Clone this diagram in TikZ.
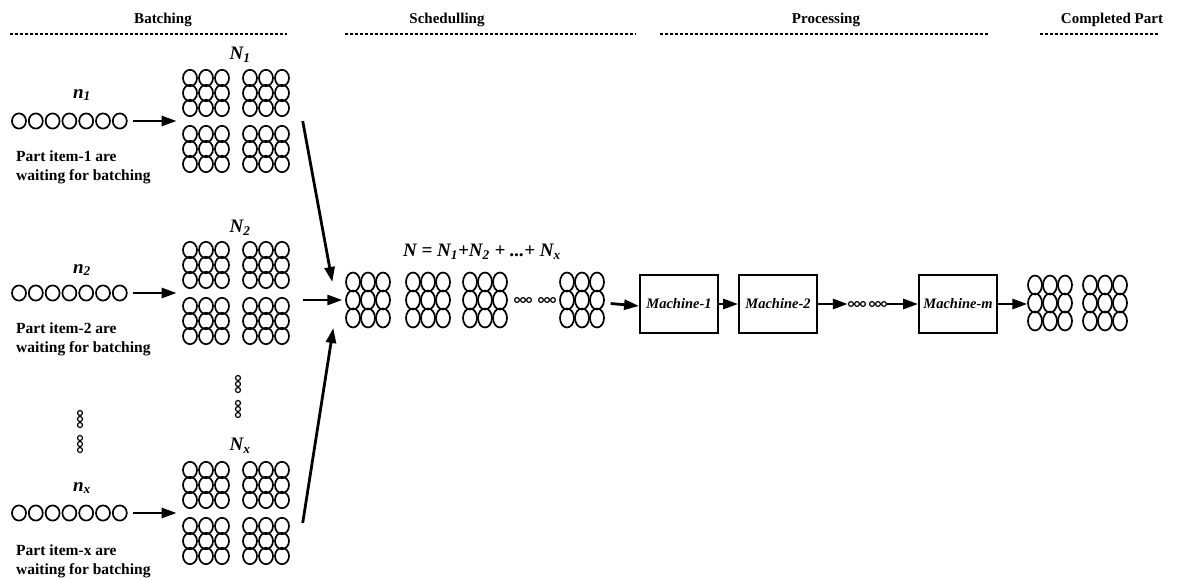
\documentclass[tikz,border=0pt]{standalone}
\usepackage{fontspec}
\setmainfont{Liberation Serif}
\usetikzlibrary{arrows.meta}

\begin{document}
\begin{tikzpicture}[x=1pt,y=-1pt,>={Triangle[length=15pt,width=10pt]},font=\bfseries]

\tikzstyle{ring}=[line width=1.7pt]
\tikzstyle{dot}=[line width=1.2pt]
\tikzstyle{blk}=[inner sep=0pt,minimum width=107pt,minimum height=102pt]
\tikzstyle{que}=[inner sep=0pt,minimum width=116pt,minimum height=16pt]
\tikzstyle{seq}=[inner sep=0pt,minimum height=55pt]
\tikzstyle{vdots}=[inner sep=0pt,minimum width=6pt,minimum height=43pt]
\tikzstyle{mach}=[draw,line width=1.8pt,minimum width=78pt,minimum height=58pt,font=\fontsize{14.5}{14.5}\selectfont\bfseries\itshape]
\tikzstyle{arr}=[->,line width=2.8pt]
\tikzstyle{hdr}=[font=\fontsize{15}{15}\selectfont\bfseries]
\tikzstyle{hline}=[line width=1.2pt,dash pattern=on 3pt off 2pt]
\tikzstyle{lbl}=[font=\fontsize{19}{19}\selectfont\bfseries\itshape]
\tikzstyle{note}=[align=left,anchor=west,inner sep=0pt,font=\fontsize{15.5}{19}\selectfont\bfseries]

    \useasboundingbox (0,0) rectangle (1191,578);

    % headers
    \node[hdr] (hb) at (163,20) {Batching};
    \node[hdr] (hs) at (447,20) {Schedulling};
    \node[hdr] (hp) at (826,20) {Processing};
    \node[hdr] (hc) at (1112,20) {Completed Part};
    \coordinate (hb1) at (10,34);   \coordinate (hb2) at (287,34);
    \coordinate (hs1) at (345,34);  \coordinate (hs2) at (636,34);
    \coordinate (hp1) at (660,34);  \coordinate (hp2) at (988,34);
    \coordinate (hc1) at (1040,34); \coordinate (hc2) at (1158,34);
    \draw[hline] (hb1) -- (hb2);
    \draw[hline] (hs1) -- (hs2);
    \draw[hline] (hp1) -- (hp2);
    \draw[hline] (hc1) -- (hc2);

    % waiting parts
    \node[que] (q1) at (69.5,121) {};
    \node[que] (q2) at (69.5,293) {};
    \node[que] (qx) at (69.5,513) {};
    \foreach \q in {q1,q2,qx}
      \foreach \i in {0,...,6}
        \draw[ring] (\q.center) ++(-50.5+16.8*\i,0) ellipse (7 and 7.6);

    \node[lbl] (n1) at (82,95) {n\textsubscript{1}};
    \node[lbl] (n2) at (82,270) {n\textsubscript{2}};
    \node[lbl] (nx) at (82,488) {n\textsubscript{x}};

    \node[note] (t1) at (16,167) {Part item-1 are\\waiting for batching};
    \node[note] (t2) at (16,339) {Part item-2 are\\waiting for batching};
    \node[note] (tx) at (16,561) {Part item-x are\\waiting for batching};

    % batches
    \node[blk] (b1) at (236,121) {};
    \node[blk] (b2) at (236,293) {};
    \node[blk] (bx) at (236,513) {};
    \foreach \b in {b1,b2,bx}
      \foreach \dx in {-46,-30,-14,14,30,46}
        \foreach \dy in {-43,-28,-13,13,28,43}
          \draw[ring] (\b.center) ++(\dx,\dy) ellipse (7 and 8.2);

    \node[lbl] (N1) at (240,55) {N\textsubscript{1}};
    \node[lbl] (N2) at (240,228) {N\textsubscript{2}};
    \node[lbl] (Nx) at (240,446) {N\textsubscript{x}};

    \node[vdots] (v1) at (80,431.5) {};
    \node[vdots] (v2) at (238,396.5) {};
    \foreach \v in {v1,v2}
      \foreach \dy in {-18.5,-12.5,-6.5,6.5,12.5,18.5}
        \draw[dot] (\v.center) ++(0,\dy) circle (2.5);

    \draw[arr,shorten <=5.5pt,shorten >=5.7pt] (q1.east) -- (b1.west);
    \draw[arr,shorten <=5.5pt,shorten >=5.7pt] (q2.east) -- (b2.west);
    \draw[arr,shorten <=5.5pt,shorten >=5.7pt] (qx.east) -- (bx.west);

    % schedule
    \node[seq,minimum width=259pt] (s) at (475,300) {};
    \foreach \dx in {-122,-107,-92,-62,-47,-32,-5,10,25,92,107,122}
      \foreach \dy in {-18,0,18}
        \draw[ring] (s.center) ++(\dx,\dy) ellipse (7 and 9.5);
    \foreach \dx in {42,48,54,66,72,78}
      \draw[dot] (s.center) ++(\dx,0) circle (2.4);
    \node[lbl] (eq) at (482,252) {N = N\textsubscript{1}+N\textsubscript{2} + ...+ N\textsubscript{x}};

    \draw[arr] ([xshift=13pt]b1.east) -- ([shift={(-13,-18)}]s.west);
    \draw[arr] ([shift={(13,7)}]b2.east) -- ([xshift=-3pt]s.west);
    \draw[arr] ([shift={(13,10)}]bx.east) -- ([shift={(-12,28)}]s.west);

    % machines
    \node[mach] (m1) at (679,304) {Machine-1};
    \node[mach] (m2) at (778,304) {Machine-2};
    \node[inner sep=0pt,minimum width=39pt,minimum height=6pt] (d) at (867.5,304) {};
    \foreach \dx in {-16.5,-10.5,-4.5,4.5,10.5,16.5}
      \draw[dot] (d.center) ++(\dx,0) circle (2.4);
    \node[mach] (mm) at (958,304) {Machine-m};

    % completed
    \node[seq,minimum width=100pt] (f) at (1077.5,303) {};
    \foreach \dx in {-42.5,-27.5,-12.5,12.5,27.5,42.5}
      \foreach \dy in {-18,0,18}
        \draw[ring] (f.center) ++(\dx,\dy) ellipse (7 and 9.5);

    \draw[arr,shorten <=6pt] ([yshift=-3pt]s.east) -- ([yshift=-2pt]m1.west);
    \draw[arr] (m1) -- (m2);
    \draw[arr] (m2) -- (d);
    \draw[arr] (d) -- (mm);
    \draw[arr] (mm) -- ([yshift=-1pt]f.west);

\end{tikzpicture}
\end{document}
